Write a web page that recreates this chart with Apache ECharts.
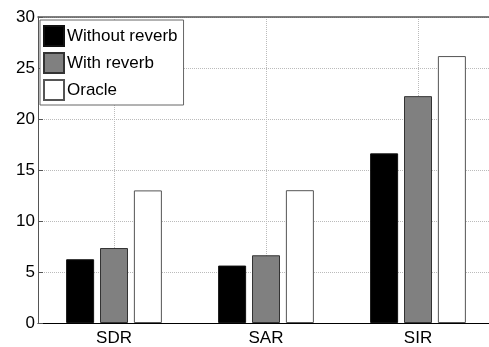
<!DOCTYPE html>
<html>
<head>
<meta charset="utf-8">
<script src="https://cdn.jsdelivr.net/npm/echarts@6/dist/echarts.min.js"></script>
<style>
html,body{margin:0;padding:0;background:#fff;overflow:hidden;}
#chart{width:500px;height:347px;}
</style>
</head>
<body>
<div id="chart"></div>
<script>
const categories = ['SDR', 'SAR', 'SIR'];
const withoutReverb = [6.25, 5.63, 16.63];
const withReverb = [7.35, 6.64, 22.24];
const oracle = [13.0, 13.02, 26.17];
const seriesNames = ['Without reverb', 'With reverb', 'Oracle'];

const chart = echarts.init(document.getElementById('chart'));
const font = 'Liberation Sans, Arial, Helvetica, sans-serif';
const mk = (name, data, fill, border) => ({
  name, type: 'bar', data, barWidth: 28, barGap: '21%',
  itemStyle: { color: fill, borderColor: border, borderWidth: 1 },
  emphasis: { disabled: true }
});
chart.setOption({
  animation: false,
  backgroundColor: '#fff',
  textStyle: { fontFamily: font },
  grid: { left: 38, top: 17, width: 456, height: 307, containLabel: false },
  legend: {
    orient: 'vertical', left: 40, top: 20,
    icon: 'rect',
    itemWidth: 20, itemHeight: 20, itemGap: 5,
    padding: [5, 6, 4, 3],
    borderColor: '#666', borderWidth: 1, backgroundColor: '#fff',
    textStyle: { fontSize: 17, color: '#000', fontFamily: font, padding: [0, 0, 0, -2] },
    data: seriesNames
  },
  xAxis: [{
    type: 'category', data: categories, position: 'bottom',
    axisLine: { lineStyle: { color: '#000', width: 1 } },
    axisTick: { inside: true, alignWithLabel: true, length: 5, lineStyle: { color: '#000' } },
    axisLabel: { fontSize: 17, color: '#000', margin: 7, fontFamily: font },
    splitLine: { show: true, alignWithLabel: true, lineStyle: { type: 'dotted', color: '#bbb' } }
  }, {
    type: 'category', data: categories, position: 'top',
    axisLine: { lineStyle: { color: '#555', width: 1.5 } },
    axisTick: { inside: true, alignWithLabel: true, length: 5, lineStyle: { color: '#000' } },
    axisLabel: { show: false },
    splitLine: { show: false }
  }],
  yAxis: {
    type: 'value', min: 0, max: 30, interval: 5,
    axisLine: { show: true, lineStyle: { color: '#555', width: 1 } },
    axisTick: { show: true, inside: true, length: 5, lineStyle: { color: '#555' } },
    axisLabel: { fontSize: 17, color: '#000', margin: 3, fontFamily: font },
    splitLine: { show: true, lineStyle: { type: 'dotted', color: '#bbb' } }
  },
  series: [
    mk(seriesNames[0], withoutReverb, '#000', '#111'),
    mk(seriesNames[1], withReverb, '#808080', '#333'),
    mk(seriesNames[2], oracle, '#fff', '#555')
  ]
});
</script>
</body>
</html>
